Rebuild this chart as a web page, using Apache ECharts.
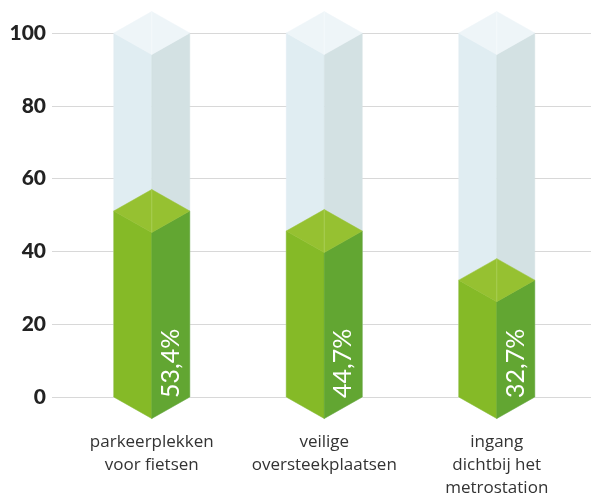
<!DOCTYPE html>
<html><head><meta charset="utf-8">
<style>html,body{margin:0;padding:0;background:#fff}#c{width:591px;height:494px}</style>
<script src="https://cdn.jsdelivr.net/npm/echarts@6/dist/echarts.min.js"></script>
</head><body><div id="c"></div>
<script>
const categories = ['parkeerplekken\nvoor fietsen', 'veilige\noversteekplaatsen', 'ingang\ndichtbij het\nmetrostation'];
const barHeights = [51.1, 45.6, 32.1];
const valueLabels = ['53,4%', '44,7%', '32,7%'];
const trackTop = [100, 100, 100];
const yTicks = [0, 20, 40, 60, 80, 100];

const HALF = 38, DEPTH = 21.5;
function poly(points, fill) {
  return { type: 'polygon', shape: { points }, style: { fill, stroke: fill, lineWidth: 0.5 } };
}
function prism(cx, yBottom, yTop, left, right, top) {
  return [
    poly([[cx - HALF, yTop], [cx, yTop + DEPTH], [cx, yBottom + DEPTH], [cx - HALF, yBottom]], left),
    poly([[cx, yTop + DEPTH], [cx + HALF, yTop], [cx + HALF, yBottom], [cx, yBottom + DEPTH]], right),
    poly([[cx - HALF, yTop], [cx, yTop - DEPTH], [cx + HALF, yTop], [cx, yTop + DEPTH]], top)
  ];
}
function renderBar(params, api) {
  const i = api.value(0);
  const base = api.coord([i, 0]);
  const cx = base[0], y0 = base[1];
  const yTrack = api.coord([i, api.value(1)])[1];
  const yVal = api.coord([i, api.value(2)])[1];
  const children = []
    .concat(prism(cx, y0, yTrack, '#E0EDF2', '#D3E1E3', '#EEF5F8'))
    .concat([{ type: 'line', shape: { x1: cx, y1: yTrack - DEPTH, x2: cx, y2: yTrack + DEPTH }, style: { stroke: '#F4F9FB', lineWidth: 1 } }])
    .concat(prism(cx, y0, yVal, '#85BA27', '#62A632', '#96C131'))
    .concat([
      { type: 'line', shape: { x1: cx, y1: yVal - DEPTH, x2: cx, y2: yVal + DEPTH }, style: { stroke: '#A9CE55', lineWidth: 1 } },
      { type: 'text', x: cx + 19, y: y0 + 1, rotation: Math.PI / 2,
        style: { text: valueLabels[i], fill: '#fff', font: '400 25px Lato', align: 'left', verticalAlign: 'middle' } }
    ]);
  return { type: 'group', children };
}
const chart = echarts.init(document.getElementById('c'), null, { renderer: 'canvas' });
chart.setOption({
  animation: false,
  backgroundColor: '#fff',
  grid: [
    { left: 52, right: 0, top: 33, height: 364, outerBoundsMode: 'none' },
    { left: 65.5, width: 517.5, top: 33, height: 364, outerBoundsMode: 'none' }
  ],
  xAxis: [
    { gridIndex: 0, type: 'value', min: 0, max: 1, show: false },
    { gridIndex: 1, type: 'category', data: categories,
      axisLine: { show: false }, axisTick: { show: false },
      axisLabel: { color: '#333', fontFamily: 'Open Sans', fontSize: 17, lineHeight: 23, margin: 34, interval: 0 } }
  ],
  yAxis: [
    { gridIndex: 0, type: 'value', min: 0, max: 100, interval: 20,
      axisLine: { show: false }, axisTick: { show: false },
      axisLabel: { color: '#222', fontFamily: 'Lato', fontWeight: 900, fontSize: 21, margin: 6,
        formatter: v => yTicks.includes(v) ? String(v) : '' },
      splitLine: { lineStyle: { color: '#D8D8D8', width: 1 } } },
    { gridIndex: 1, type: 'value', min: 0, max: 100, show: false, splitLine: { show: false } }
  ],
  series: [{
    type: 'custom',
    xAxisIndex: 1, yAxisIndex: 1,
    clip: false,
    renderItem: renderBar,
    encode: { x: 0, y: 1 },
    data: categories.map((c, i) => [i, trackTop[i], barHeights[i]])
  }]
});
</script></body></html>
